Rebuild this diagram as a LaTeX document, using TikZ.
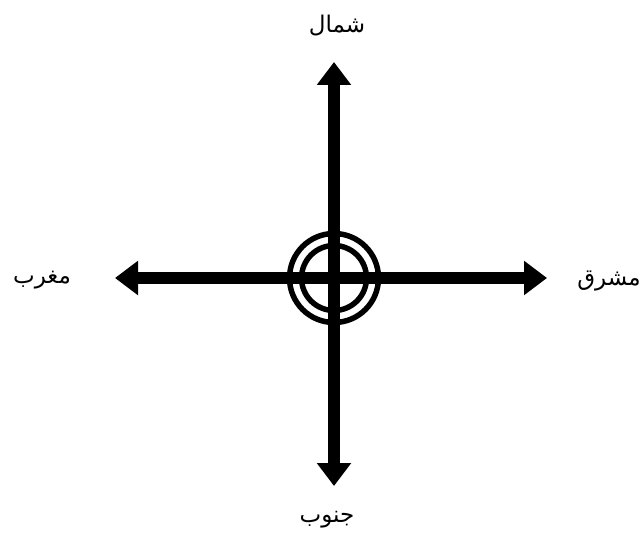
\documentclass[tikz,border=0pt]{standalone}
\usepackage{fontspec}
\newfontfamily\urdufont[Script=Arabic]{DejaVu Sans}
\TeXXeTstate=1
\usetikzlibrary{arrows.meta}

\begin{document}
\begin{tikzpicture}[x=1pt, y=-1pt,
    arr/.style={line width=12pt, -{Triangle[length=23pt, width=33pt]}},
    ring/.style={line width=5.5pt},
    dir/.style={font=\urdufont\fontsize{23}{28}\selectfont, inner sep=0pt}]

  \useasboundingbox (0,0) rectangle (644,545);

  % centre and arrow tips
  \coordinate (c) at (334,278);
  \coordinate (tn) at (334,62);
  \coordinate (ts) at (334,486);
  \coordinate (tw) at (115,278);
  \coordinate (te) at (547,278);

  % compass arrows
  \draw[arr] (c) -- (tn);
  \draw[arr] (c) -- (ts);
  \draw[arr] (c) -- (tw);
  \draw[arr] (c) -- (te);

  % double ring
  \draw[ring] (c) circle[radius=44.5];
  \draw[ring] (c) circle[radius=32.5];

  % direction names
  \node[dir] (north) at (337,26) {\beginR شمال\endR};
  \node[dir] (south) at (327,520) {\beginR جنوب\endR};
  \node[dir] (west) at (42,280) {\beginR مغرب\endR};
  \node[dir] (east) at (609,281) {\beginR مشرق\endR};
\end{tikzpicture}
\end{document}
